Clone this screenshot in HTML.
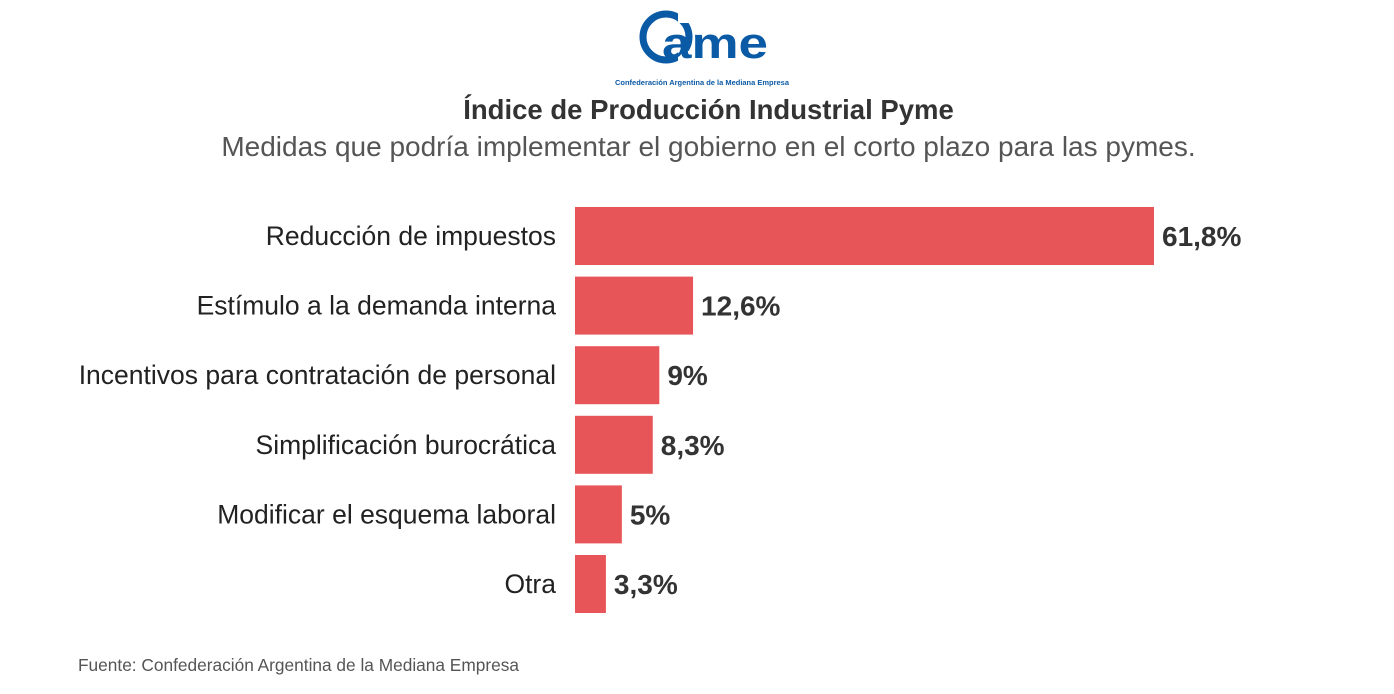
<!DOCTYPE html>
<html><head><meta charset="utf-8"><style>
body{margin:0;width:1394px;height:694px;background:#fff;font-family:"Liberation Sans",sans-serif;overflow:hidden;position:relative}
.t{position:absolute;white-space:nowrap}
</style></head><body>
<svg style="position:absolute;left:600px;top:0px" width="220" height="92">
<circle cx="66" cy="37" r="23" fill="none" stroke="#0b5aa6" stroke-width="7"/>
<rect x="78" y="10" width="20" height="13" fill="#fff"/>
<rect x="78" y="51" width="20" height="14" fill="#fff"/>
<text x="62" y="58" font-family="Liberation Sans" font-weight="bold" font-size="44" fill="#0b5aa6" textLength="106" lengthAdjust="spacingAndGlyphs">ame</text>
<text x="102" y="85" text-anchor="middle" font-family="Liberation Sans" font-weight="bold" font-size="7" fill="#0b5aa6" textLength="174" lengthAdjust="spacingAndGlyphs">Confederación Argentina de la Mediana Empresa</text>
</svg>
<div class="t" style="left:0;width:1417px;text-align:center;top:94px;font-size:27.5px;font-weight:bold;color:#333">Índice de Producción Industrial Pyme</div>
<div class="t" style="left:0;width:1417px;text-align:center;top:131px;font-size:28px;color:#555">Medidas que podría implementar el gobierno en el corto plazo para las pymes.</div>
<svg id="chart" style="position:absolute;left:0;top:0" width="1394" height="694"></svg>
<div class="t" style="left:78px;top:655px;font-size:17.3px;color:#555">Fuente: Confederación Argentina de la Mediana Empresa</div>
<script>
const categories=["Reducción de impuestos","Estímulo a la demanda interna","Incentivos para contratación de personal","Simplificación burocrática","Modificar el esquema laboral","Otra"];
const values=[61.8,12.6,9,8.3,5,3.3];
const labels=["61,8%","12,6%","9%","8,3%","5%","3,3%"];
const svg=document.getElementById('chart');const NS="http://www.w3.org/2000/svg";
const x0=575,k=579/61.8,y0=207,pitch=69.6,bh=58;
const xs=v=>v*k, ys=i=>y0+i*pitch;
categories.forEach((c,i)=>{
 const r=document.createElementNS(NS,'rect');
 
 
 r.setAttribute('x',x0);r.setAttribute('y',ys(i));r.setAttribute('width',xs(values[i]));r.setAttribute('height',bh);r.setAttribute('fill','#e85558');svg.appendChild(r);
 const t=document.createElementNS(NS,'text');
 
 
 t.setAttribute('x',556);t.setAttribute('y',ys(i)+bh/2+9);t.setAttribute('text-anchor','end');t.setAttribute('font-size','26.5');t.setAttribute('fill','#222');t.setAttribute('font-family','Liberation Sans');t.textContent=c;svg.appendChild(t);
 const v=document.createElementNS(NS,'text');
 
 
 v.setAttribute('x',x0+xs(values[i])+8);v.setAttribute('y',ys(i)+bh/2+10);v.setAttribute('font-size','28');v.setAttribute('font-weight','bold');v.setAttribute('fill','#333');v.setAttribute('font-family','Liberation Sans');v.textContent=labels[i];svg.appendChild(v);
});
</script>
</body></html>
